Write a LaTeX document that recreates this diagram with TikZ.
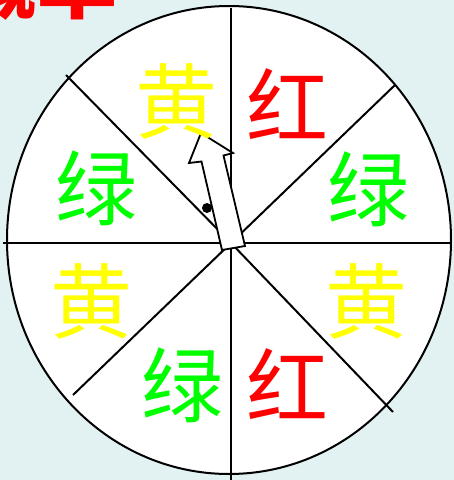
\documentclass[tikz,border=0pt]{standalone}
\usepackage{fontspec}
\newfontfamily\cjk{Noto Sans CJK SC}
\definecolor{bg}{HTML}{E2F1F2}
\definecolor{cy}{HTML}{FFFF00}
\definecolor{cr}{HTML}{FF0000}
\definecolor{cg}{HTML}{00FF00}
\tikzset{
  ch/.style={inner sep=0pt, font=\cjk\fontsize{82}{82}\selectfont},
  divider/.style={draw=black, line width=2pt},
  pointer/.style={fill=white, draw=black, line width=1.8pt, line join=miter},
}
\begin{document}
\begin{tikzpicture}[x=1pt,y=-1pt]
\useasboundingbox (0,0) rectangle (454,480);
\clip (0,0) rectangle (454,480);
\fill[bg] (0,0) rectangle (454,480);
\node[inner sep=0pt, text=cr, font=\cjk\bfseries\fontsize{80}{80}\selectfont, anchor=south] (title) at (38,21) {概率};
\filldraw[fill=white, draw=black, line width=2pt] (229,240) ellipse [x radius=222, y radius=234];
\coordinate (c) at (231,243);
\coordinate (top) at (231,8);
\coordinate (bot) at (231,480);
\coordinate (lft) at (3,243);
\coordinate (rgt) at (450,243);
\coordinate (ul) at (66,75);
\coordinate (ur) at (395,85);
\coordinate (ll) at (73,395);
\coordinate (lr) at (393,412);
\draw[divider] (top) -- (bot);
\draw[divider] (lft) -- (rgt);
\draw[divider] (ul) -- (c);
\draw[divider] (ur) -- (c);
\draw[divider] (ll) -- (c);
\draw[divider] (lr) -- (c);
\draw[pointer] (201,133) -- (233,153) -- (223.5,155.5) -- (245,246) -- (222,250) -- (201.5,161.5) -- (189,163) -- cycle;
\fill[black] (207,208) circle (5);
\node[ch, text=cy] (y1) at (176,101) {黄};
\node[ch, text=cr] (r1) at (287,104) {红};
\node[ch, text=cg] (g1) at (368,189) {绿};
\node[ch, text=cy] (y2) at (366,301) {黄};
\node[ch, text=cr] (r2) at (287,384) {红};
\node[ch, text=cg] (g2) at (182,385) {绿};
\node[ch, text=cy] (y3) at (91,301) {黄};
\node[ch, text=cg] (g3) at (97,188) {绿};
\end{tikzpicture}
\end{document}
